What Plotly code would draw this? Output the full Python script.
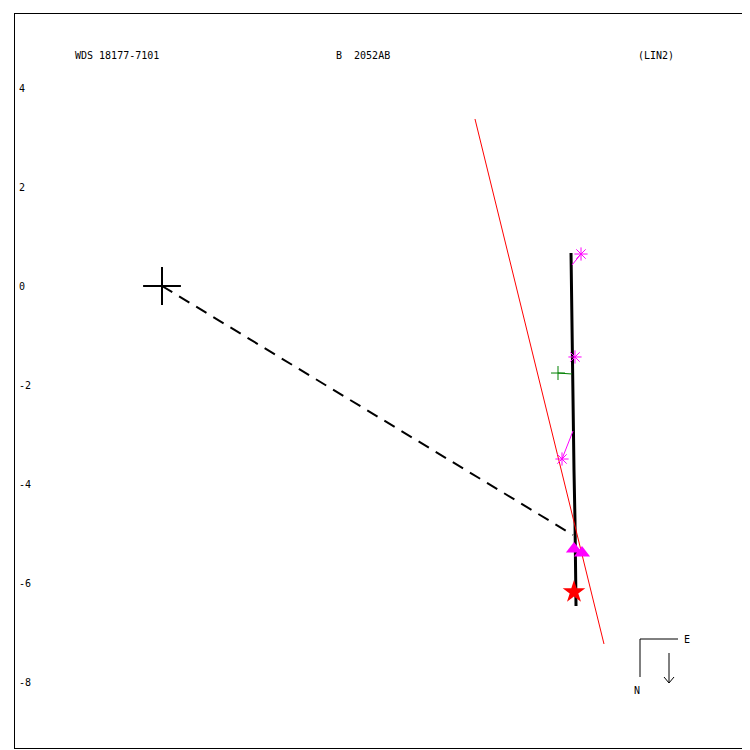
import plotly.graph_objects as go

# ---- data (arcsec) ----
orbit_x = [8.263, 8.283, 8.303, 8.323, 8.343, 8.364]
orbit_y = [0.667, -1.091, -2.707, -3.717, -4.727, -6.465]

peri_x = [0.0, 8.303]
peri_y = [0.0, -5.030]

node_x = [6.323, 8.929]
node_y = [3.374, -7.232]

obs_x = [8.465, 8.343, 8.081]
obs_y = [0.646, -1.434, -3.495]
obs_fit_x = [8.283, 8.333, 8.303]
obs_fit_y = [0.424, -1.414, -2.929]

hip_x = [8.000]
hip_y = [-1.758]
hip_fit_x = [8.283]
hip_fit_y = [-1.778]

tri_x = [8.323, 8.485]
tri_y = [-5.313, -5.394]

star_x = [8.323]
star_y = [-6.182]

ytick_vals = [4, 2, 0, -2, -4, -6, -8]
ytick_text = ["4", "2", "0", "-2", "-4", "-6", "-8"]

title_left = "WDS 18177-7101"
title_mid = "B\u00a0\u00a02052AB"
title_right = "(LIN2)"

# ---- pixel mapping helpers (for decoration only) ----
X0, Y0, S = 162.0, 286.0, 49.5
def px2x(p):
    return (p - X0) / S
def px2y(p):
    return (Y0 - p) / S

FONT = "DejaVu Sans Mono"
fig = go.Figure()

# orbit
fig.add_trace(go.Scatter(x=orbit_x, y=orbit_y, mode="lines",
                         line=dict(color="black", width=3), hoverinfo="skip"))
# periastron line
fig.add_trace(go.Scatter(x=peri_x, y=peri_y, mode="lines",
                         line=dict(color="black", width=2, dash="12px,8px")))
# line of nodes
fig.add_trace(go.Scatter(x=node_x, y=node_y, mode="lines",
                         line=dict(color="red", width=1)))
# residual lines
for i in range(len(obs_x)):
    fig.add_trace(go.Scatter(x=[obs_x[i], obs_fit_x[i]], y=[obs_y[i], obs_fit_y[i]],
                             mode="lines", line=dict(color="magenta", width=1)))
for i in range(len(hip_x)):
    fig.add_trace(go.Scatter(x=[hip_x[i], hip_fit_x[i]], y=[hip_y[i], hip_fit_y[i]],
                             mode="lines", line=dict(color="green", width=1)))
# observations
fig.add_trace(go.Scatter(x=obs_x, y=obs_y, mode="markers",
                         marker=dict(symbol="asterisk-open", size=11, color="magenta",
                                     line=dict(color="magenta", width=1))))
fig.add_trace(go.Scatter(x=hip_x, y=hip_y, mode="markers",
                         marker=dict(symbol="cross-thin-open", size=10, color="green",
                                     line=dict(color="green", width=1))))
fig.add_trace(go.Scatter(x=tri_x, y=tri_y, mode="markers",
                         marker=dict(symbol="triangle-up", size=14, color="magenta",
                                     line=dict(width=0))))
fig.add_trace(go.Scatter(x=star_x, y=star_y, mode="markers",
                         marker=dict(symbol="star", size=17, color="red",
                                     line=dict(width=0))))
# primary
fig.add_trace(go.Scatter(x=[0], y=[0], mode="markers",
                         marker=dict(symbol="cross-thin-open", size=27, color="black",
                                     line=dict(color="black", width=2))))

# compass
fig.add_shape(type="path", xref="x", yref="y",
              path=f"M{px2x(640)},{px2y(677)} L{px2x(640)},{px2y(639)} L{px2x(678)},{px2y(639)}",
              line=dict(color="black", width=1))
fig.add_shape(type="path", xref="x", yref="y",
              path=(f"M{px2x(669)},{px2y(653)} L{px2x(669)},{px2y(683)} "
                    f"M{px2x(664)},{px2y(677)} L{px2x(669)},{px2y(683)} L{px2x(674)},{px2y(677)}"),
              line=dict(color="black", width=1))
fig.add_annotation(x=px2x(682), y=px2y(639), text="E", showarrow=False,
                   xanchor="left", yanchor="middle", font=dict(family=FONT, size=10, color="black"))
fig.add_annotation(x=px2x(637), y=px2y(690), text="N", showarrow=False,
                   xanchor="center", yanchor="middle", font=dict(family=FONT, size=10, color="black"))

# titles
for txt, px in [(title_left, 73), (title_mid, 334), (title_right, 636)]:
    fig.add_annotation(x=px2x(px), y=px2y(55), text=txt, showarrow=False,
                       xanchor="left", yanchor="middle",
                       font=dict(family=FONT, size=10, color="black"))

# the page adds an 8px body margin, so the plot area is shifted back by 8px
fig.update_layout(
    width=750, height=750,
    margin=dict(l=7, r=9, t=6, b=10),
    paper_bgcolor="white", plot_bgcolor="white",
    showlegend=False,
    xaxis=dict(range=[px2x(15), px2x(749)], showgrid=False, zeroline=False,
               showticklabels=False, ticks="", showline=True, mirror=True,
               linecolor="black", linewidth=1),
    yaxis=dict(range=[px2y(748), px2y(14)], showgrid=False, zeroline=False,
               tickvals=ytick_vals, ticktext=ytick_text, ticks="",
               ticklabelposition="inside", ticklabelstandoff=3,
               tickfont=dict(family=FONT, size=10, color="black"),
               showline=True, mirror=True, linecolor="black", linewidth=1),
)

fig.write_html("out.html")
